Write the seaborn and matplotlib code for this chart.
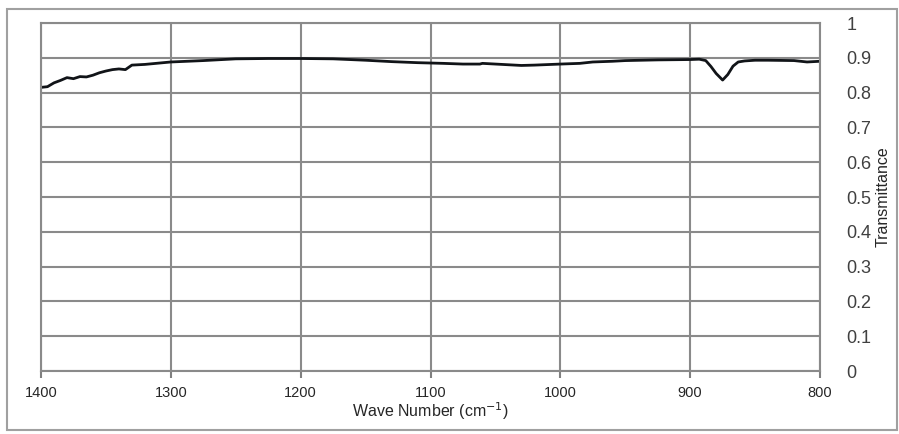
import numpy as np
import pandas as pd
import matplotlib.pyplot as plt
import seaborn as sns
from matplotlib.patches import Rectangle

# Wave numbers (cm^-1) and transmittance
wave_number = [1400, 1395, 1390, 1385, 1380, 1375, 1370, 1365, 1360, 1355,
               1350, 1345, 1340, 1335, 1330, 1320, 1300, 1275, 1250, 1225,
               1200, 1175, 1150, 1130, 1110, 1100, 1090, 1075, 1062, 1060,
               1050, 1040, 1030, 1020, 1000, 985, 975, 960, 950, 925,
               900, 893, 888, 884, 880, 875, 871, 867, 863, 858,
               850, 840, 820, 810, 800]
transmittance = [0.815, 0.817, 0.828, 0.835, 0.843, 0.840, 0.846, 0.845, 0.850, 0.857,
                 0.862, 0.866, 0.868, 0.866, 0.879, 0.881, 0.888, 0.892, 0.897, 0.898,
                 0.898, 0.897, 0.893, 0.889, 0.886, 0.885, 0.884, 0.882, 0.882, 0.884,
                 0.882, 0.880, 0.878, 0.879, 0.882, 0.884, 0.888, 0.890, 0.892, 0.894,
                 0.895, 0.896, 0.892, 0.875, 0.855, 0.836, 0.852, 0.876, 0.888, 0.891,
                 0.893, 0.893, 0.892, 0.888, 0.890]

x_ticks = [1400, 1300, 1200, 1100, 1000, 900, 800]
y_ticks = [0, 0.1, 0.2, 0.3, 0.4, 0.5, 0.6, 0.7, 0.8, 0.9, 1]
y_tick_labels = ["0", "0.1", "0.2", "0.3", "0.4", "0.5", "0.6", "0.7", "0.8", "0.9", "1"]

sns.set_style("white")
plt.rcParams['font.family'] = ['Liberation Sans', 'DejaVu Sans']

df = pd.DataFrame({"wave": wave_number, "T": transmittance})

fig = plt.figure(figsize=(8.99, 4.34), dpi=100)
# outer chart-area frame
fig.patches.append(Rectangle((7 / 899, 4 / 434), 890 / 899, 421 / 434,
                             transform=fig.transFigure, fill=False,
                             edgecolor="#a0a0a0", linewidth=1.5))
ax = fig.add_axes([41 / 899, 63 / 434, 779 / 899, 348 / 434])

sns.lineplot(data=df, x="wave", y="T", ax=ax, color="#111418", linewidth=2.0)

ax.set_xlim(1400, 800)
ax.set_ylim(0, 1)
ax.set_xticks(x_ticks)
ax.set_xticklabels([str(t) for t in x_ticks], fontsize=10.5)
ax.set_yticks(y_ticks)
ax.set_yticklabels(y_tick_labels, fontsize=13, color="#404040")
ax.yaxis.tick_right()
ax.yaxis.set_label_position("right")
ax.tick_params(axis="x", direction="out", length=5, width=1.5, color="#808080",
               pad=6, bottom=True)
ax.tick_params(axis="y", length=0, pad=19)
ax.grid(True, color="#8a8a8a", linewidth=1.5)
for s in ax.spines.values():
    s.set_color("#8a8a8a")
    s.set_linewidth(1.5)

ax.set_xlabel("Wave Number (cm$^{-1}$)", fontsize=11.5, labelpad=0)
ax.set_ylabel("Transmittance", fontsize=11.5, labelpad=3)

fig.savefig("out.png", dpi=100)
